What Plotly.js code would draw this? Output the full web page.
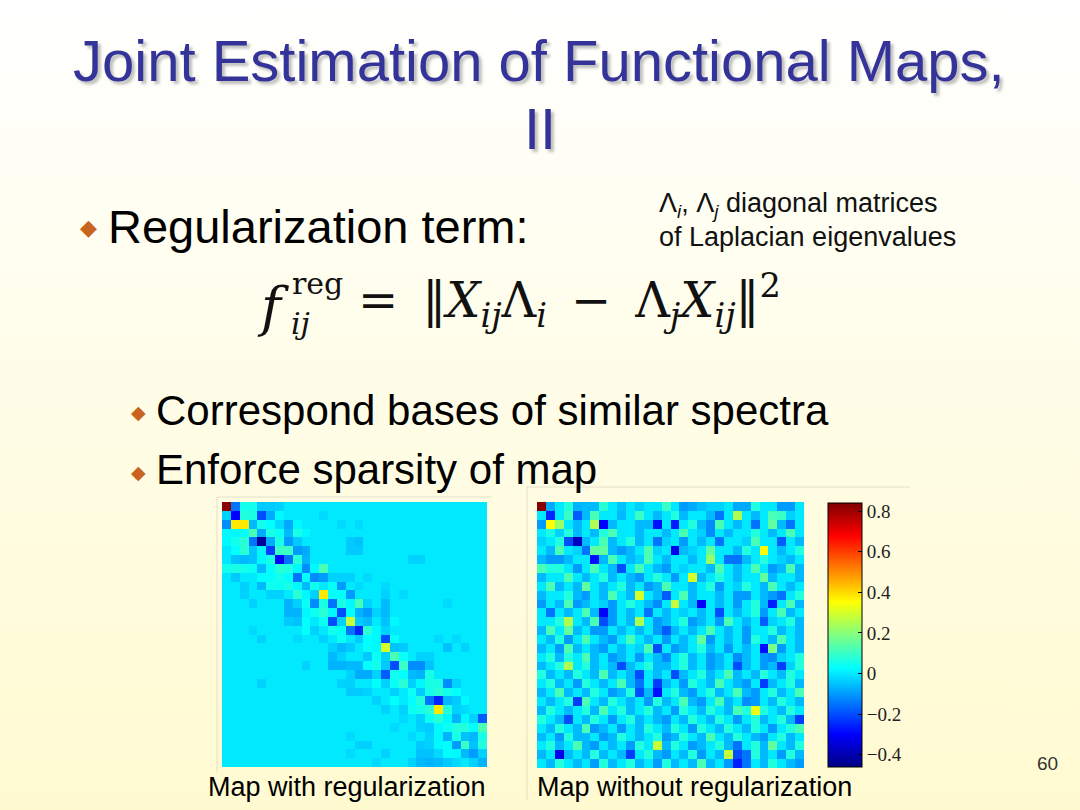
<!DOCTYPE html>
<html>
<head>
<meta charset="utf-8">
<script src="https://cdn.plot.ly/plotly-3.0.1.min.js"></script>
<style>
  html, body { margin: 0; padding: 0; }
  #slide {
    width: 1080px; height: 810px;
    background: linear-gradient(to bottom, #ffffff 0%, #fffef0 30%, #fffce0 65%, #fffad0 100%);
  }
</style>
</head>
<body>
<div id="slide"></div>
<script>
// map with regularization (30 x 30)
var mapReg = [
  [.83,-.15,.05,.05,-.04,-.04,-.03,0,0,0, 0,0,0,0,0,0,0,0,0,0, 0,0,0,0,0,0,0,0,0,0],
  [-.03,-.3,.07,.06,-.2,-.08,.02,0,0,0, 0,-.02,0,0,0,0,0,0,0,0, 0,0,0,0,0,0,0,0,0,0],
  [-.12,.38,.38,-.06,.05,.03,-.02,-.08,.02,0, 0,0,0,-.02,0,-.02,0,0,0,0, 0,0,0,0,0,0,0,0,0,0],
  [.02,.02,.03,.12,-.08,.06,.04,-.06,.06,.02, 0,0,0,0,0,0,0,0,0,0, 0,0,0,0,0,0,0,0,0,0],
  [.02,.05,.08,-.15,-.43,-.08,.06,-.1,-.04,0, 0,0,0,0,-.04,-.05,0,0,0,0, 0,0,0,0,0,0,0,0,0,0],
  [0,.03,.08,-.05,.02,-.22,.1,.1,-.1,-.08, 0,0,0,0,-.04,-.04,0,0,0,0, 0,0,0,0,0,0,0,0,0,0],
  [0,-.05,-.06,-.05,.02,.06,-.3,-.15,.08,-.07, 0,0,0,0,0,0,0,0,0,0, 0,-.03,-.03,0,0,0,0,0,0,0],
  [.05,.06,.05,.04,-.06,.03,.08,.07,.02,-.12, .02,.12,0,0,0,0,0,0,0,0, 0,0,0,0,0,0,0,0,0,0],
  [0,-.04,0,0,.03,.03,.05,.03,-.15,.03, -.12,-.1,-.03,-.03,-.03,0,-.02,0,0,0, 0,0,0,0,0,0,0,0,0,0],
  [0,0,-.03,0,-.06,.05,.04,.06,.02,-.06, .05,0,.03,-.1,0,-.02,0,0,-.02,0, 0,0,0,0,0,0,0,0,0,0],
  [0,0,-.03,0,0,-.03,-.03,0,.08,.02, -.03,.38,.03,.03,-.1,0,0,0,-.03,0, -.02,0,0,0,0,0,0,0,0,0],
  [0,0,0,-.03,0,0,0,-.07,-.03,.04, -.12,.06,-.15,.06,.02,.12,-.03,0,-.06,0, 0,0,0,0,0,-.02,0,0,0,0],
  [0,0,0,0,0,0,0,-.07,-.07,.02, .04,.08,.02,-.2,.03,-.07,-.1,-.03,-.06,0, 0,0,0,0,0,0,0,0,0,0],
  [0,0,0,0,0,0,0,-.04,-.05,.03, 0,.04,-.2,-.03,.28,-.04,-.06,0,-.05,.02, 0,0,0,0,0,0,0,0,0,0],
  [0,0,0,-.02,0,0,0,0,0,.03, -.03,0,.05,.03,-.15,-.25,.08,.02,-.03,0, 0,0,0,0,0,0,0,0,0,0],
  [0,0,0,0,-.03,0,0,0,-.02,0, 0,-.03,0,.04,0,-.04,.03,.02,-.2,.03, 0,0,0,0,-.02,0,-.02,0,0,0],
  [0,0,0,0,0,0,0,0,0,0, 0,0,-.03,-.06,-.04,0,.03,.02,.3,-.05, -.04,0,0,0,0,-.05,0,-.03,0,0],
  [0,0,0,0,0,0,0,0,0,0, 0,0,-.06,-.03,0,0,-.04,.04,-.03,.12, .04,0,-.03,-.03,0,0,0,0,0,0],
  [0,0,0,0,0,0,0,0,0,-.03, 0,0,-.07,-.07,-.06,-.06,.03,.05,-.04,-.2, .1,-.12,-.12,-.05,0,0,0,0,0,0],
  [0,0,0,0,0,0,0,0,0,0, 0,0,0,0,-.03,-.08,-.08,-.03,-.18,.05, .03,-.06,-.07,.06,0,0,0,0,0,0],
  [0,0,0,0,-.03,0,0,0,0,0, 0,0,0,-.03,-.03,0,0,.03,-.03,.04, .08,-.03,.02,.06,.06,-.12,-.03,0,0,0],
  [0,0,0,0,0,0,0,0,0,0, 0,0,0,0,-.04,-.04,-.03,0,0,-.03, 0,.04,-.04,.05,.08,.05,.03,0,0,0],
  [0,0,0,0,0,0,0,0,0,0, 0,0,0,0,0,0,0,-.03,0,.03, 0,.03,.07,-.15,-.25,-.06,-.04,.02,0,0],
  [0,0,0,0,0,0,0,0,0,0, 0,0,0,0,0,0,0,0,-.03,0, -.03,.04,.05,.08,.38,.07,-.03,-.02,0,0],
  [0,0,0,0,0,0,0,0,0,0, 0,0,0,0,0,0,0,0,0,0, -.02,0,-.03,.04,.08,.02,-.07,.02,-.03,-.18],
  [0,0,0,0,0,0,0,0,0,0, 0,0,0,0,0,0,0,0,0,-.02, 0,0,-.03,-.04,.02,.04,.07,.07,.03,.12],
  [0,0,0,0,0,0,0,0,0,0, 0,0,0,0,-.02,0,0,0,0,0, 0,-.02,0,-.03,.02,-.07,.06,-.05,-.06,.06],
  [0,0,0,0,0,0,0,0,0,0, 0,0,0,0,0,-.03,-.03,0,0,0, 0,0,-.04,-.03,.02,.03,-.1,.1,-.05,.07],
  [0,0,0,0,0,0,0,0,0,0, 0,0,0,0,-.02,0,0,0,-.03,0, 0,0,-.05,-.05,-.02,.03,.02,-.06,-.1,-.03],
  [0,0,0,0,0,0,0,0,0,0, 0,0,0,0,0,0,0,-.02,0,0, 0,-.03,-.06,-.07,-.06,-.04,-.02,0,-.03,-.07]
];

// map without regularization (30 x 30)
var mapNoReg = [
  [.83,-.08,0,.07,-.07,-.06,-.06,.08,0,-.05, 0,-.03,0,0,.1,0,-.1,-.08,-.05,-.03, -.03,0,-.08,-.08,.07,0,0,-.1,-.1,0],
  [0,-.25,0,.1,-.18,-.06,.12,0,0,-.06, 0,.1,0,-.06,0,.07,-.06,0,0,-.06, -.15,0,.25,0,-.06,0,.12,.1,-.03,0],
  [-.1,.35,.22,0,-.06,0,.25,-.3,-.06,0, 0,-.06,-.06,-.28,0,-.26,0,.07,-.06,-.12, .12,0,-.06,0,-.15,0,.15,-.06,-.15,0],
  [0,.06,-.03,.07,-.06,0,-.06,.07,.12,0, 0,-.06,0,0,-.06,0,.12,0,-.03,-.12, 0,-.06,0,0,.07,0,-.06,0,.12,0],
  [-.03,0,.07,-.2,-.38,-.06,0,.12,-.06,0, .07,-.06,0,-.15,-.03,0,-.1,0,-.06,0, -.15,0,0,-.03,.12,0,0,-.18,0,-.06],
  [0,-.06,.12,0,-.03,-.15,.15,.15,-.06,-.1, -.06,0,.12,-.03,0,-.32,-.06,-.03,0,.15, 0,0,-.06,.07,0,.35,0,-.06,0,.07],
  [-.06,-.1,-.1,-.06,0,0,-.28,-.06,.12,0, -.06,-.03,.12,0,-.06,0,0,-.06,0,.22, 0,-.15,-.15,-.06,0,.07,0,-.03,-.06,0],
  [.12,.07,.07,0,-.1,0,.12,0,-.06,-.2, 0,.12,0,-.06,-.1,0,-.03,0,0,-.06, .12,0,-.06,0,.12,0,-.1,-.06,.12,-.06],
  [-.06,0,0,.12,0,-.06,0,.07,-.06,0, -.06,-.1,0,.07,0,-.1,0,.3,-.06,0, .07,0,-.06,0,0,.15,-.06,0,0,-.06],
  [0,.12,-.06,0,-.06,.15,0,-.06,0,.07, -.06,0,-.1,-.06,.12,0,0,-.06,0,.07, -.1,0,-.03,.07,0,-.06,.12,0,-.06,0],
  [-.06,0,0,.07,-.06,-.1,0,-.06,.12,0, -.06,.3,0,-.06,-.18,0,.12,-.06,0,0, -.06,0,-.1,-.1,0,-.06,-.1,-.15,0,.07],
  [-.1,0,-.06,.12,-.1,-.06,0,-.03,-.1,0, .07,0,-.06,-.12,0,.28,0,-.06,-.3,0, -.06,0,-.1,0,.07,-.06,-.26,0,.12,-.06],
  [0,-.15,0,-.06,0,.12,-.06,-.3,-.1,0, -.06,0,-.15,0,-.06,0,-.03,0,-.06,0, -.2,0,-.06,0,.07,-.1,0,.12,-.06,0],
  [0,0,.07,.25,0,-.06,.12,-.2,-.1,0, -.06,.25,0,-.1,-.06,0,.07,-.1,-.06,0, -.1,.12,0,-.06,0,-.18,-.03,0,.07,-.06],
  [-.06,.12,0,.15,-.06,0,-.1,-.1,0,-.06, 0,-.06,0,-.1,-.18,-.06,0,-.06,0,.12, 0,-.06,0,-.1,0,0,.07,-.06,0,-.06],
  [0,-.06,.07,-.1,0,.12,0,-.06,-.1,0, .12,0,-.06,0,-.1,0,-.06,0,.15,-.1, 0,-.06,0,-.1,.07,0,-.06,.12,0,-.06],
  [-.06,0,-.1,.12,-.06,0,-.06,-.1,0,-.06, 0,-.03,.12,-.2,0,-.1,-.06,0,.07,-.06, 0,-.1,0,-.06,0,-.28,.18,-.1,0,-.06],
  [0,.07,-.06,.07,0,.12,-.06,0,-.1,-.06, 0,-.1,0,-.06,-.12,0,.07,-.06,0,-.1, -.06,0,-.12,-.06,0,-.1,-.12,-.03,0,.07],
  [-.06,0,.07,.25,0,.07,-.06,0,-.06,-.2, -.06,0,.07,-.06,-.06,0,.07,-.06,0,-.1, -.06,0,-.2,-.06,0,-.1,-.06,-.22,-.03,.07],
  [.07,-.06,0,-.06,.07,0,-.06,.12,-.06,0, -.06,-.2,0,-.06,0,-.2,-.06,0,.07,-.06, 0,.12,-.06,0,-.06,.07,0,-.06,.07,0],
  [0,.07,-.06,0,-.1,.07,0,-.06,0,.12, -.06,-.15,0,-.22,-.06,0,-.1,.07,0,-.06, .12,0,-.06,-.1,0,-.22,-.06,0,.07,-.06],
  [-.06,0,.12,-.06,0,-.06,.07,0,-.1,-.06, .07,-.2,-.06,-.28,0,.07,-.06,-.1,0,.07, -.06,0,.12,-.06,-.1,0,.07,-.06,0,.12],
  [0,-.06,0,.07,-.22,.12,0,-.06,.07,0, -.06,0,-.1,.07,-.06,0,.12,-.06,-.1,0, .12,-.06,0,-.12,-.1,0,-.06,.07,0,-.06],
  [-.06,.07,0,-.06,0,.07,-.06,.12,0,.07, -.06,0,.07,-.06,0,-.1,.07,0,-.06,.07, 0,-.06,.12,.07,.33,.07,0,-.06,.07,0],
  [.07,0,-.06,-.2,0,-.06,.07,0,-.1,0, .07,-.06,0,-.06,-.1,0,-.06,.07,0,-.06, .07,0,-.1,0,.07,-.06,0,.07,-.06,-.22],
  [0,-.06,.07,0,-.06,.12,-.1,-.06,0,-.1, 0,-.06,.07,0,-.06,.07,0,-.1,.07,0, -.06,.07,0,-.06,.07,0,-.1,0,.07,.12],
  [-.06,0,-.1,.07,-.06,-.06,0,-.1,-.06,.07, 0,-.06,0,.07,-.1,-.06,.07,0,-.06,.12, 0,-.06,.07,0,-.06,-.1,0,.07,-.06,0],
  [0,.07,-.06,0,.12,-.06,-.1,0,-.06,0, -.1,.07,0,.28,-.06,.07,0,-.1,-.06,0, .07,-.06,-.15,0,.07,-.06,.15,0,-.06,.07],
  [-.06,0,-.32,-.06,0,-.06,.07,-.06,0,-.06, -.22,0,.07,-.06,-.1,0,-.06,.07,-.1,0, -.06,.28,-.2,-.15,.07,-.06,0,-.1,.07,-.06],
  [0,-.06,.07,0,-.06,0,-.1,.07,-.06,0, .07,-.06,0,-.1,.07,-.06,0,-.06,.12,-.06, 0,-.1,-.26,-.15,0,-.06,.07,0,-.06,-.1]
];

var cbTickVals = [-0.4, -0.2, 0, 0.2, 0.4, 0.6, 0.8];
var cbTickText = ['\u22120.4', '\u22120.2', '0', '0.2', '0.4', '0.6', '0.8'];

var zLow = -0.46, zHigh = 0.84;

// MATLAB style jet
var jet = [
  [0, 'rgb(0,0,131)'],
  [0.125, 'rgb(0,0,255)'],
  [0.375, 'rgb(0,255,255)'],
  [0.625, 'rgb(255,255,0)'],
  [0.875, 'rgb(255,0,0)'],
  [1, 'rgb(128,0,0)']
];

// pixel -> paper helpers
function px(x) { return x / 1080; }
function py(y) { return 1 - y / 810; }

var sans = 'Liberation Sans, Arial, sans-serif';
var serif = 'Liberation Serif, Times New Roman, serif';
var mathFont = 'DejaVu Serif, serif';

var traceReg = {
  z: mapReg,
  type: 'heatmap',
  colorscale: jet,
  zmin: zLow, zmax: zHigh,
  showscale: false,
  xaxis: 'x', yaxis: 'y',
  hoverinfo: 'z'
};

var traceNoReg = {
  z: mapNoReg,
  type: 'heatmap',
  colorscale: jet,
  zmin: zLow, zmax: zHigh,
  xaxis: 'x2', yaxis: 'y2',
  hoverinfo: 'z',
  colorbar: {
    x: px(828), xanchor: 'left', xpad: 0,
    y: py(635), yanchor: 'middle', ypad: 0,
    len: 264 / 810, lenmode: 'fraction',
    thickness: 34, thicknessmode: 'pixels',
    outlinewidth: 1, outlinecolor: '#000',
    ticks: 'inside', ticklen: 4, tickcolor: '#000',
    tickvals: cbTickVals, ticktext: cbTickText,
    tickfont: {family: serif, size: 19, color: '#222'}
  }
};

function hiddenAxis(dom, anchor, reversed) {
  var a = {domain: dom, visible: false, showgrid: false, zeroline: false, anchor: anchor, fixedrange: true};
  if (reversed) a.autorange = 'reversed';
  return a;
}

var bullet = {family: 'DejaVu Sans, sans-serif', color: '#C8641E'};

var annotations = [
  // title
  {x: px(539), y: py(60), text: 'Joint Estimation of Functional Maps,',
   font: {family: sans, size: 58, color: '#333399', shadow: '3px 3px 3px rgba(70,70,70,0.35)'}},
  {x: px(540), y: py(129), text: 'II',
   font: {family: sans, size: 58, color: '#333399', shadow: '3px 3px 3px rgba(70,70,70,0.35)'}},
  // bullet 1
  {x: px(88), y: py(228), text: '\u25C6', font: {family: bullet.family, size: 22, color: bullet.color}},
  {x: px(106), y: py(226), xanchor: 'left', text: 'Regularization term:',
   font: {family: sans, size: 47, color: '#000'}},
  // side note
  {x: px(657), y: py(205), xanchor: 'left',
   text: '\u039B<sub><i>i</i></sub>, \u039B<sub><i>j</i></sub> diagonal matrices',
   font: {family: sans, size: 27, color: '#111'}},
  {x: px(657), y: py(237), xanchor: 'left', text: 'of Laplacian eigenvalues',
   font: {family: sans, size: 27, color: '#111'}},
  // formula
  {x: px(255), y: py(307), xanchor: 'left', text: '<i>f</i>',
   font: {family: mathFont, size: 54, color: '#111'}},
  {x: px(290), y: py(283), xanchor: 'left', text: 'reg',
   font: {family: mathFont, size: 30, color: '#111'}},
  {x: px(289), y: py(323), xanchor: 'left', text: '<i>ij</i>',
   font: {family: mathFont, size: 30, color: '#111'}},
  {x: px(356), y: py(301), xanchor: 'left',
   text: '=\u2002\u2016<i>X</i><sub><i>ij</i></sub>\u039B<sub><i>i</i></sub>\u2002\u2212\u2002\u039B<sub><i>j</i></sub><i>X</i><sub><i>ij</i></sub>\u2016<sup>2</sup>',
   font: {family: mathFont, size: 48, color: '#111'}},
  // sub bullets
  {x: px(138), y: py(412), text: '\u25C6', font: {family: bullet.family, size: 19, color: bullet.color}},
  {x: px(154), y: py(410), xanchor: 'left', text: 'Correspond bases of similar spectra',
   font: {family: sans, size: 42, color: '#000'}},
  {x: px(138), y: py(472), text: '\u25C6', font: {family: bullet.family, size: 19, color: bullet.color}},
  {x: px(154), y: py(469), xanchor: 'left', text: 'Enforce sparsity of map',
   font: {family: sans, size: 42, color: '#000'}},
  // captions
  {x: px(347), y: py(787), text: 'Map with regularization',
   font: {family: sans, size: 27, color: '#000'}},
  {x: px(694), y: py(787), text: 'Map without regularization',
   font: {family: sans, size: 27, color: '#000'}},
  {x: px(1047), y: py(763), text: '60', font: {family: sans, size: 19, color: '#333'}}
];
annotations.forEach(function (a) {
  a.xref = 'paper'; a.yref = 'paper'; a.showarrow = false;
  if (!a.xanchor) a.xanchor = 'center';
  a.yanchor = 'middle';
});

// faint frames of the pasted figure images
var frame = {color: 'rgba(190,190,175,0.45)', width: 1};
var shapes = [
  {type: 'line', xref: 'paper', yref: 'paper', x0: px(217), x1: px(217), y0: py(497), y1: py(772), line: frame},
  {type: 'line', xref: 'paper', yref: 'paper', x0: px(217), x1: px(492), y0: py(497), y1: py(497), line: frame},
  {type: 'line', xref: 'paper', yref: 'paper', x0: px(527), x1: px(527), y0: py(487), y1: py(800), line: frame},
  {type: 'line', xref: 'paper', yref: 'paper', x0: px(527), x1: px(910), y0: py(487), y1: py(487), line: frame}
];

var layout = {
  width: 1080, height: 810,
  margin: {l: 0, r: 0, t: 0, b: 0},
  paper_bgcolor: 'rgba(0,0,0,0)',
  plot_bgcolor: 'rgba(0,0,0,0)',
  showlegend: false,
  xaxis: hiddenAxis([px(222), px(487)], 'y', false),
  yaxis: hiddenAxis([py(767), py(502)], 'x', true),
  xaxis2: hiddenAxis([px(537), px(804)], 'y2', false),
  yaxis2: hiddenAxis([py(768), py(502)], 'x2', true),
  annotations: annotations,
  shapes: shapes
};

Plotly.newPlot('slide', [traceReg, traceNoReg], layout, {displayModeBar: false, staticPlot: true});
</script>
</body>
</html>
